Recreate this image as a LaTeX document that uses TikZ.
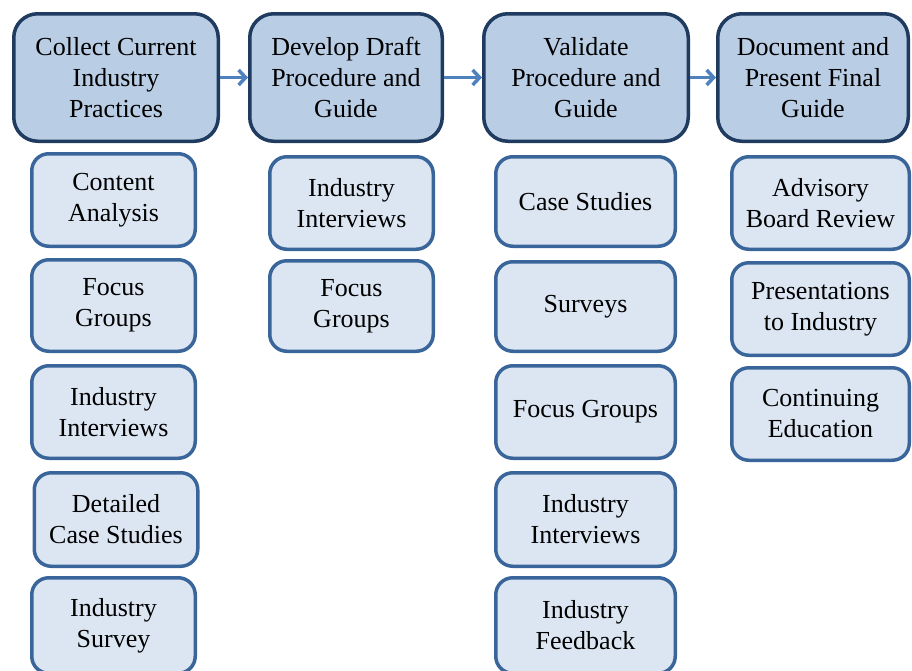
\documentclass[tikz,border=0pt]{standalone}
\usepackage{fontspec}
\setmainfont{Liberation Serif}
\usetikzlibrary{arrows.meta}

\definecolor{headfill}{HTML}{B9CDE5}
\definecolor{headline}{HTML}{1F3B60}
\definecolor{itemfill}{HTML}{DCE6F2}
\definecolor{itemline}{HTML}{3A659A}
\definecolor{arrowblue}{HTML}{4F81BD}

\tikzset{
  header/.style={draw=headline,fill=headfill,line width=3.5pt,rounded corners=24pt,
    align=center,inner sep=0pt,font=\fontsize{26}{31}\selectfont},
  item/.style={draw=itemline,fill=itemfill,line width=3.5pt,rounded corners=17pt,
    align=center,inner sep=0pt,font=\fontsize{26}{31}\selectfont},
  flow/.style={-{Straight Barb[length=7pt,width=15pt]},arrowblue,line width=3.5pt}
}

\begin{document}
\begin{tikzpicture}[x=1pt,y=-1pt]
\useasboundingbox (0,0) rectangle (912,670);
\clip (0,0) rectangle (912,670);

% stages
\node[header,minimum width=204.5pt,minimum height=127.5pt](collect) at (116,77.5){Collect Current\\Industry\\Practices};
\node[header,minimum width=192.5pt,minimum height=127.5pt](draft) at (346,77.5){Develop Draft\\Procedure and\\Guide};
\node[header,minimum width=204.5pt,minimum height=127.5pt](validate) at (586,77.5){Validate\\Procedure and\\Guide};
\node[header,minimum width=190.5pt,minimum height=127.5pt](present) at (813,77.5){Document and\\Present Final\\Guide};

\draw[flow](collect)--(draft);
\draw[flow](draft)--(validate);
\draw[flow](validate)--(present);

% collect
\node[item,minimum width=163.5pt,minimum height=92.5pt](content) at (113.5,200){Content\\Analysis};
\node[item,minimum width=163.5pt,minimum height=91.5pt](focusA) at (113.5,305.5){Focus\\Groups};
\node[item,minimum width=163.5pt,minimum height=92.5pt](interviewA) at (113.5,412){Industry\\Interviews};
\node[item,minimum width=163.5pt,minimum height=93.5pt](detailed) at (116,519.5){Detailed\\Case Studies};
\node[item,minimum width=163.5pt,minimum height=95.5pt](surveyA) at (113.5,625.5){Industry\\Survey};

% draft
\node[item,minimum width=163.5pt,minimum height=92.5pt](interviewB) at (351.5,203){Industry\\Interviews};
\node[item,minimum width=163.5pt,minimum height=90.5pt](focusB) at (351.5,306){Focus\\Groups};

% validate
\node[item,minimum width=179.5pt,minimum height=89.5pt](cases) at (585.5,201.5){Case Studies};
\node[item,minimum width=179.5pt,minimum height=89.5pt](surveys) at (585.5,306.5){Surveys};
\node[item,minimum width=179.5pt,minimum height=92.5pt](focusC) at (585.5,412){Focus Groups};
\node[item,minimum width=179.5pt,minimum height=93.5pt](interviewC) at (585.5,519.5){Industry\\Interviews};
\node[item,minimum width=179.5pt,minimum height=95.5pt](feedback) at (585.5,625.5){Industry\\Feedback};

% present
\node[item,minimum width=177.5pt,minimum height=92.5pt](advisory) at (820.5,203){Advisory\\Board Review};
\node[item,minimum width=177.5pt,minimum height=92.5pt](talks) at (820.5,309){Presentations\\to Industry};
\node[item,minimum width=177.5pt,minimum height=92.5pt](education) at (820.5,414){Continuing\\Education};
\end{tikzpicture}
\end{document}
